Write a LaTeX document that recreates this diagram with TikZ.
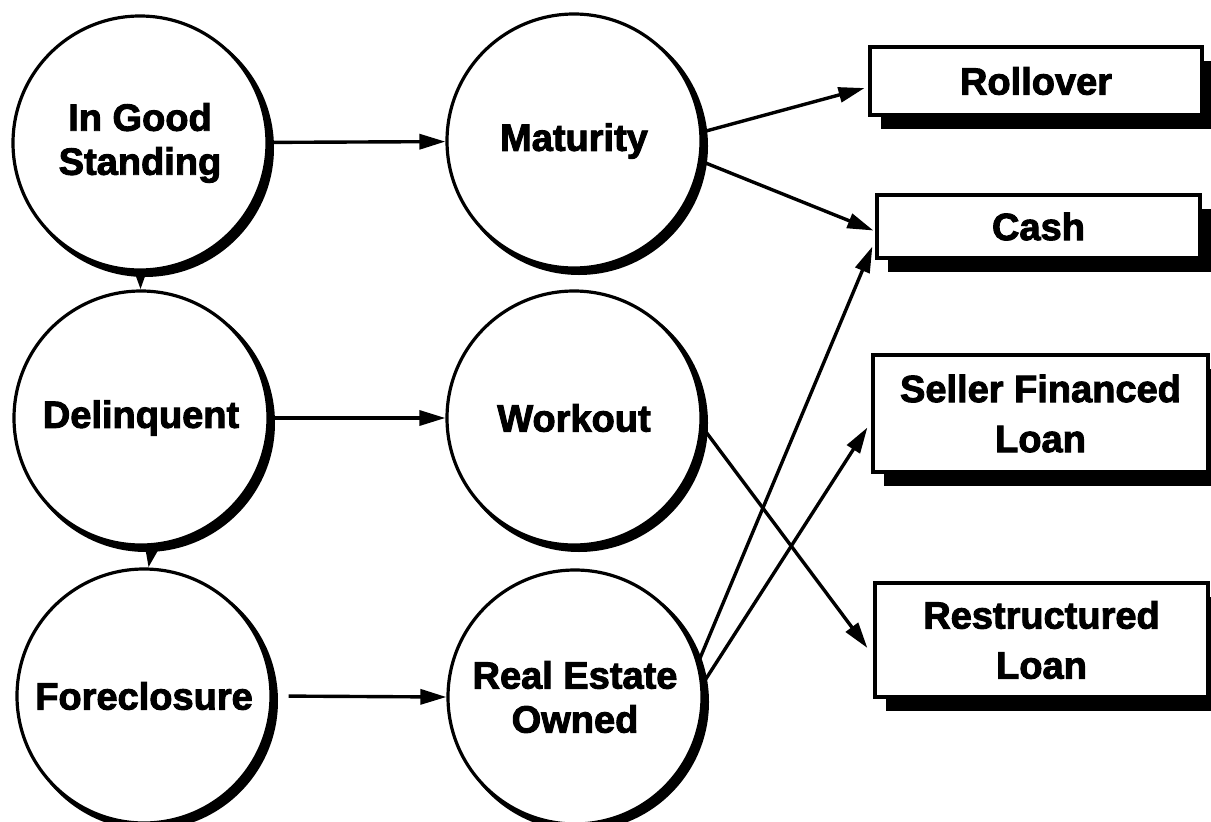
\documentclass[tikz,border=0pt]{standalone}
\usepackage{fontspec}
\setmainfont[BoldFeatures={FakeBold=2.5}]{Liberation Sans}
\usetikzlibrary{arrows.meta,calc}
\begin{document}
\begin{tikzpicture}[x=1pt,y=-1pt,
  state/.style={circle,draw,line width=3.2pt,fill=white,minimum size=254pt,inner sep=0pt,align=center,
    font=\fontsize{38}{44}\selectfont\bfseries},
  crescent/.style={fill=black},
  outcome/.style={rectangle,draw,line width=3.2pt,fill=white,inner sep=0pt,align=center,
    font=\fontsize{38}{50}\selectfont\bfseries,
    preaction={fill=black,transform canvas={shift={(11pt,-14pt)}}}},
  flow/.style={line width=3.4pt,-{Triangle[length=26pt,width=15pt]}},
  drop/.style={line width=3.4pt,-{Triangle[length=20pt,width=13pt]}},
]
\useasboundingbox (0,0) rectangle (1211,822);

\coordinate (pigs)  at (140,143);
\coordinate (pdel)  at (141,418);
\coordinate (pfore) at (144,696);
\coordinate (pmat)  at (574,141);
\coordinate (pwork) at (574,418);
\coordinate (preo)  at (575,697);

\fill[crescent] ($(pigs)+(5,5)$)  circle (129pt);
\fill[crescent] ($(pdel)+(5,5)$)  circle (129pt);
\fill[crescent] ($(pfore)+(5,5)$) circle (129pt);
\fill[crescent] ($(pmat)+(5,5)$)  circle (129pt);
\fill[crescent] ($(pwork)+(5,5)$) circle (129pt);
\fill[crescent] ($(preo)+(5,5)$)  circle (129pt);

\node[state] (igs)  at (pigs)  {In Good\\Standing};
\node[state] (del)  at (pdel)  {Delinquent};
\node[state] (fore) at (pfore) {Foreclosure};
\node[state] (mat)  at (pmat)  {Maturity};
\node[state] (work) at (pwork) {Workout};
\node[state] (reo)  at (preo)  {Real Estate\\Owned};

\node[outcome,minimum width=332pt,minimum height=68pt]  (roll)   at (1036,81)    {Rollover};
\node[outcome,minimum width=323pt,minimum height=63pt]  (cash)   at (1038.5,226.5) {Cash};
\node[outcome,minimum width=335pt,minimum height=117pt] (seller) at (1040.5,413.5) {Seller Financed\\Loan};
\node[outcome,minimum width=333pt,minimum height=114pt] (restr)  at (1041.5,640)  {Restructured\\Loan};

\draw[flow] (igs) -- (mat);
\draw[flow] (del.east) -- (work.west);
\draw[flow,shorten <=16pt] (fore.east) -- (reo.west);
\draw[drop] (igs) -- (del);
\draw[drop] (del.-85) -- (fore.88);

\draw[flow,shorten >=4pt] (mat.4) -- ($(roll.west)+(0,6)$);
\draw[flow] (mat.-9) -- ($(cash.west)+(-2,4)$);
\draw[flow] (reo.16) -- ($(cash.west)+(-3,20)$);
\draw[flow] (reo.6) -- ($(seller.west)+(-4,14)$);
\draw[flow] (work.-4) -- ($(restr.west)+(-6,8)$);
\end{tikzpicture}
\end{document}
